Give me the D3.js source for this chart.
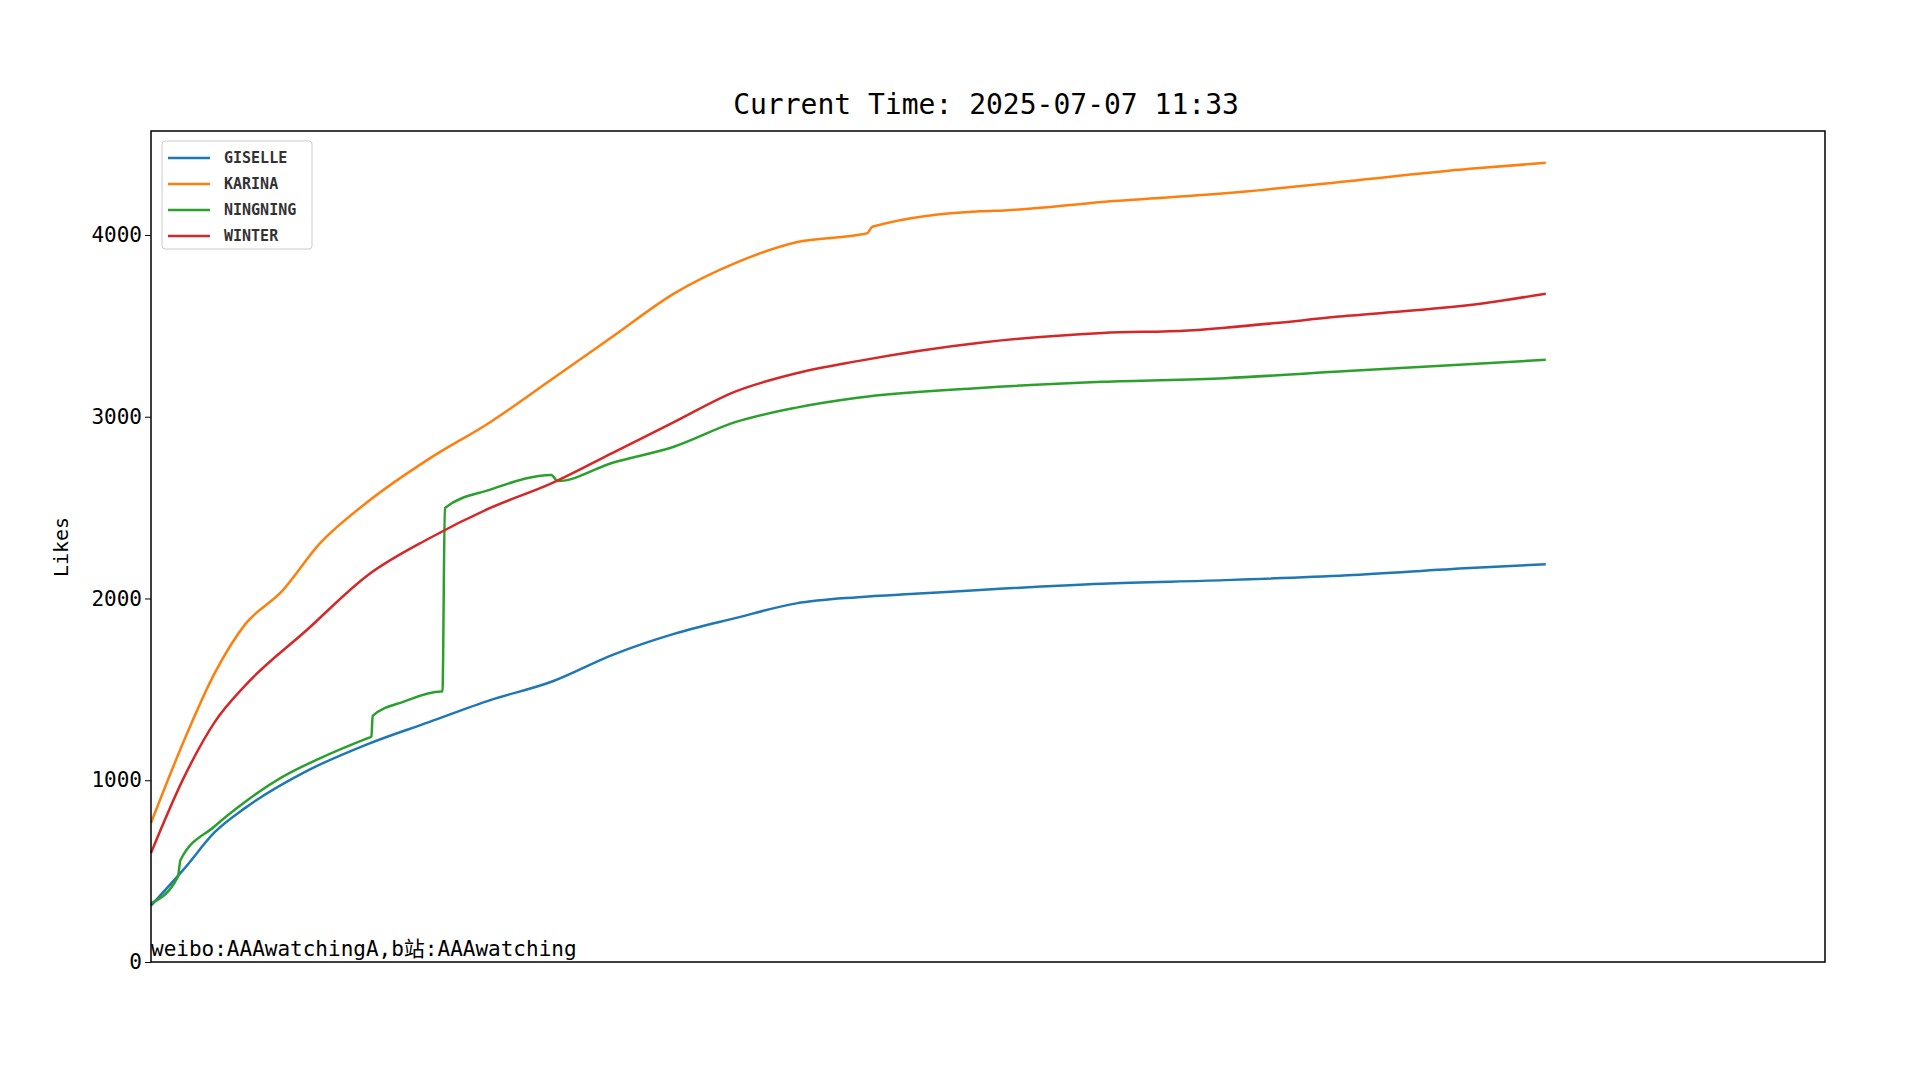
<!DOCTYPE html>
<html>
<head>
<meta charset="utf-8">
<script src="https://cdn.jsdelivr.net/npm/d3@7"></script>
<style>
  body { margin: 0; background: #fff; }
  text { font-family: "DejaVu Sans Mono", "Noto Sans CJK SC", monospace; }
</style>
</head>
<body>
<svg id="chart" width="1920" height="1080"></svg>
<script>
// time index (minutes since start) and likes per member
const giselle = [[0,310],[27,512],[52,714],[77,848],[127,1050],[177,1199],[227,1320],[277,1441],[327,1542],[377,1690],[427,1805],[477,1892],[527,1973],[577,2007],[627,2027],[677,2047],[777,2081],[877,2101],[977,2128],[1077,2168],[1139,2188]];
const karina = [[0,765],[27,1219],[52,1589],[77,1859],[107,2040],[137,2296],[177,2532],[227,2768],[277,2970],[327,3205],[377,3441],[427,3677],[477,3845],[527,3960],[577,4000],[585,4010],[589,4045],[677,4130],[697,4135],[777,4182],[877,4229],[977,4296],[1077,4364],[1139,4397]];
const ningning = [[0,323],[22,470],[24,560],[52,747],[77,882],[107,1017],[137,1118],[177,1232],[180,1240],[181,1354],[207,1434],[237,1488],[238,1488],[240,2498],[277,2599],[327,2680],[332,2646],[377,2747],[427,2835],[477,2970],[527,3050],[577,3104],[677,3158],[777,3192],[877,3212],[977,3252],[1139,3313]];
const winter = [[0,600],[27,1017],[52,1320],[77,1522],[127,1825],[177,2128],[227,2330],[277,2498],[327,2633],[377,2801],[427,2970],[477,3138],[527,3239],[577,3306],[677,3407],[777,3461],[847,3475],[877,3490],[977,3555],[1087,3623],[1139,3677]];
const seriesNames = ["GISELLE", "KARINA", "NINGNING", "WINTER"];
const seriesData = [giselle, karina, ningning, winter];
const colors = ["#1f77b4", "#ff7f0e", "#2ca02c", "#d62728"];
const yTicks = [0, 1000, 2000, 3000, 4000];

const margin = { top: 131, right: 95, bottom: 118, left: 151 };
const width = 1920 - margin.left - margin.right;
const height = 1080 - margin.top - margin.bottom;

const svg = d3.select('#chart');
const g = svg.append('g').attr('transform', `translate(${margin.left},${margin.top})`);

const x = d3.scaleLinear().domain([0, 1367]).range([0, width]);
const y = d3.scaleLinear().domain([0, 4572]).range([height, 0]);

// y axis
const yAxis = g.append('g').call(d3.axisLeft(y).tickValues(yTicks).tickSize(6).tickFormat(d3.format('d')));
yAxis.select('.domain').remove();
yAxis.selectAll('text').attr('font-size', 21).attr('font-family', '"DejaVu Sans Condensed", sans-serif').attr('fill', '#000');
yAxis.selectAll('line').attr('stroke', '#000');

// lines
const line = d3.line().x(d => x(d[0])).y(d => y(d[1])).curve(d3.curveMonotoneX);
seriesData.forEach((s, i) => {
  g.append('path').datum(s)
    .attr('fill', 'none')
    .attr('stroke', colors[i])
    .attr('stroke-width', 2.5)
    .attr('d', line);
});

// frame
g.append('rect').attr('width', width).attr('height', height)
  .attr('fill', 'none').attr('stroke', '#000').attr('stroke-width', 1.5);

// title
svg.append('text').attr('x', 986).attr('y', 114).attr('text-anchor', 'middle')
  .attr('font-size', 28).text('Current Time: 2025-07-07 11:33');

// y label
svg.append('text').attr('transform', 'translate(68,547) rotate(-90)')
  .attr('text-anchor', 'middle').attr('font-size', 20).text('Likes');

// watermark
g.append('text').attr('x', 0).attr('y', height - 6)
  .attr('font-size', 21).text('weibo:AAAwatchingA,b站:AAAwatching');

// legend
const lg = g.append('g').attr('transform', 'translate(11,10)');
lg.append('rect').attr('width', 150).attr('height', 108).attr('rx', 3)
  .attr('fill', '#fff').attr('stroke', '#ccc');
seriesNames.forEach((n, i) => {
  const yy = 17 + i * 26;
  lg.append('line').attr('x1', 6).attr('x2', 48).attr('y1', yy).attr('y2', yy)
    .attr('stroke', colors[i]).attr('stroke-width', 2.5);
  lg.append('text').attr('x', 62).attr('y', yy + 5).attr('font-size', 15).attr('font-weight', 'bold')
    .attr('fill', '#333').text(n);
});
</script>
</body>
</html>
